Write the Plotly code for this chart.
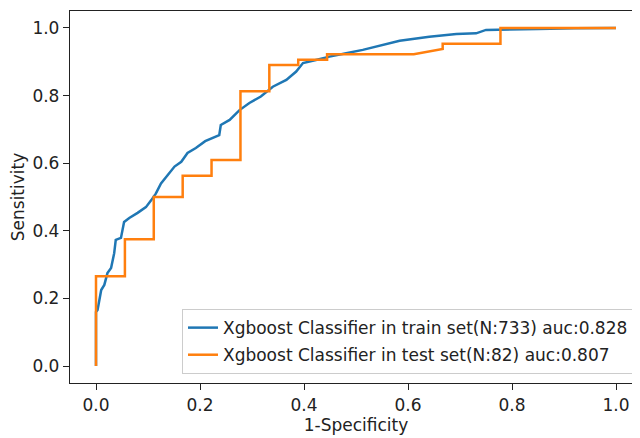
import plotly.graph_objects as go

# Train ROC
fpr_train = [0.0, 0.0, 0.003, 0.010, 0.016, 0.022, 0.029, 0.035, 0.038, 0.048, 0.054, 0.064,
             0.080, 0.096, 0.106, 0.115, 0.125, 0.138, 0.151, 0.164, 0.176, 0.192, 0.210,
             0.237, 0.240, 0.257, 0.276, 0.295, 0.317, 0.340, 0.366, 0.385, 0.398, 0.423,
             0.449, 0.481, 0.513, 0.584, 0.641, 0.693, 0.731, 0.750, 0.789, 0.850, 0.920, 1.0]
tpr_train = [0.0, 0.160, 0.166, 0.225, 0.240, 0.275, 0.290, 0.334, 0.373, 0.379, 0.426, 0.438,
             0.453, 0.470, 0.490, 0.510, 0.540, 0.565, 0.590, 0.604, 0.630, 0.645, 0.665,
             0.683, 0.713, 0.728, 0.757, 0.778, 0.797, 0.826, 0.846, 0.871, 0.896, 0.905,
             0.915, 0.925, 0.935, 0.962, 0.974, 0.982, 0.984, 0.994, 0.996, 0.997, 0.999, 1.0]

# Test ROC (18 negatives, 64 positives)
fpr_test = [0.0, 0.0, 0.0556, 0.0556, 0.1111, 0.1111, 0.1667, 0.1667, 0.2222, 0.2222,
            0.2778, 0.2778, 0.3333, 0.3333, 0.3889, 0.3889, 0.4444, 0.4444, 0.6111,
            0.6667, 0.6667, 0.7778, 0.7778, 1.0]
tpr_test = [0.0, 0.2656, 0.2656, 0.375, 0.375, 0.5, 0.5, 0.5625, 0.5625, 0.6094,
            0.6094, 0.8125, 0.8125, 0.8906, 0.8906, 0.9062, 0.9062, 0.9219, 0.9219,
            0.9375, 0.9531, 0.9531, 1.0, 1.0]

train_label = "Xgboost Classifier in train set(N:733) auc:0.828"
test_label = "Xgboost Classifier in test set(N:82) auc:0.807"
tick_vals = [0.0, 0.2, 0.4, 0.6, 0.8, 1.0]
tick_text = ["0.0", "0.2", "0.4", "0.6", "0.8", "1.0"]

FONT = "DejaVu Sans"
FS = 17

fig = go.Figure()
fig.add_trace(go.Scatter(x=fpr_train, y=tpr_train, mode="lines", name=train_label,
                         legendgroup="train",
                         line=dict(color="#1f77b4", width=2.5)))
fig.add_trace(go.Scatter(x=fpr_test, y=tpr_test, mode="lines", name=test_label,
                         legendgroup="test",
                         line=dict(color="#ff7f0e", width=2.5)))

axis_common = dict(showgrid=False, zeroline=False, showline=True, linecolor="#222222",
                   linewidth=1.3, mirror=True, ticks="outside", ticklen=6, tickwidth=1.3,
                   tickcolor="#222222", tickfont=dict(family=FONT, size=FS, color="#222222"),
                   tickvals=tick_vals, ticktext=tick_text, automargin=False)

fig.update_layout(
    width=640, height=438,
    margin=dict(l=62, r=6, t=3, b=63),
    paper_bgcolor="white", plot_bgcolor="white",
    font=dict(family=FONT, size=FS, color="#222222"),
    xaxis=dict(range=[-0.05, 1.05], title=dict(text="1-Specificity",
               font=dict(family=FONT, size=FS), standoff=4), **axis_common),
    yaxis=dict(range=[-0.05, 1.05], title=dict(text="Sensitivity",
               font=dict(family=FONT, size=FS), standoff=6), **axis_common),
    legend=dict(x=0.986, y=0.024, xanchor="right", yanchor="bottom",
                bgcolor="rgba(255,255,255,0.8)", bordercolor="#cccccc", borderwidth=1,
                font=dict(family=FONT, size=FS, color="#222222"),
                tracegroupgap=2, itemwidth=30),
    showlegend=True,
)

fig.write_html("out.html")
